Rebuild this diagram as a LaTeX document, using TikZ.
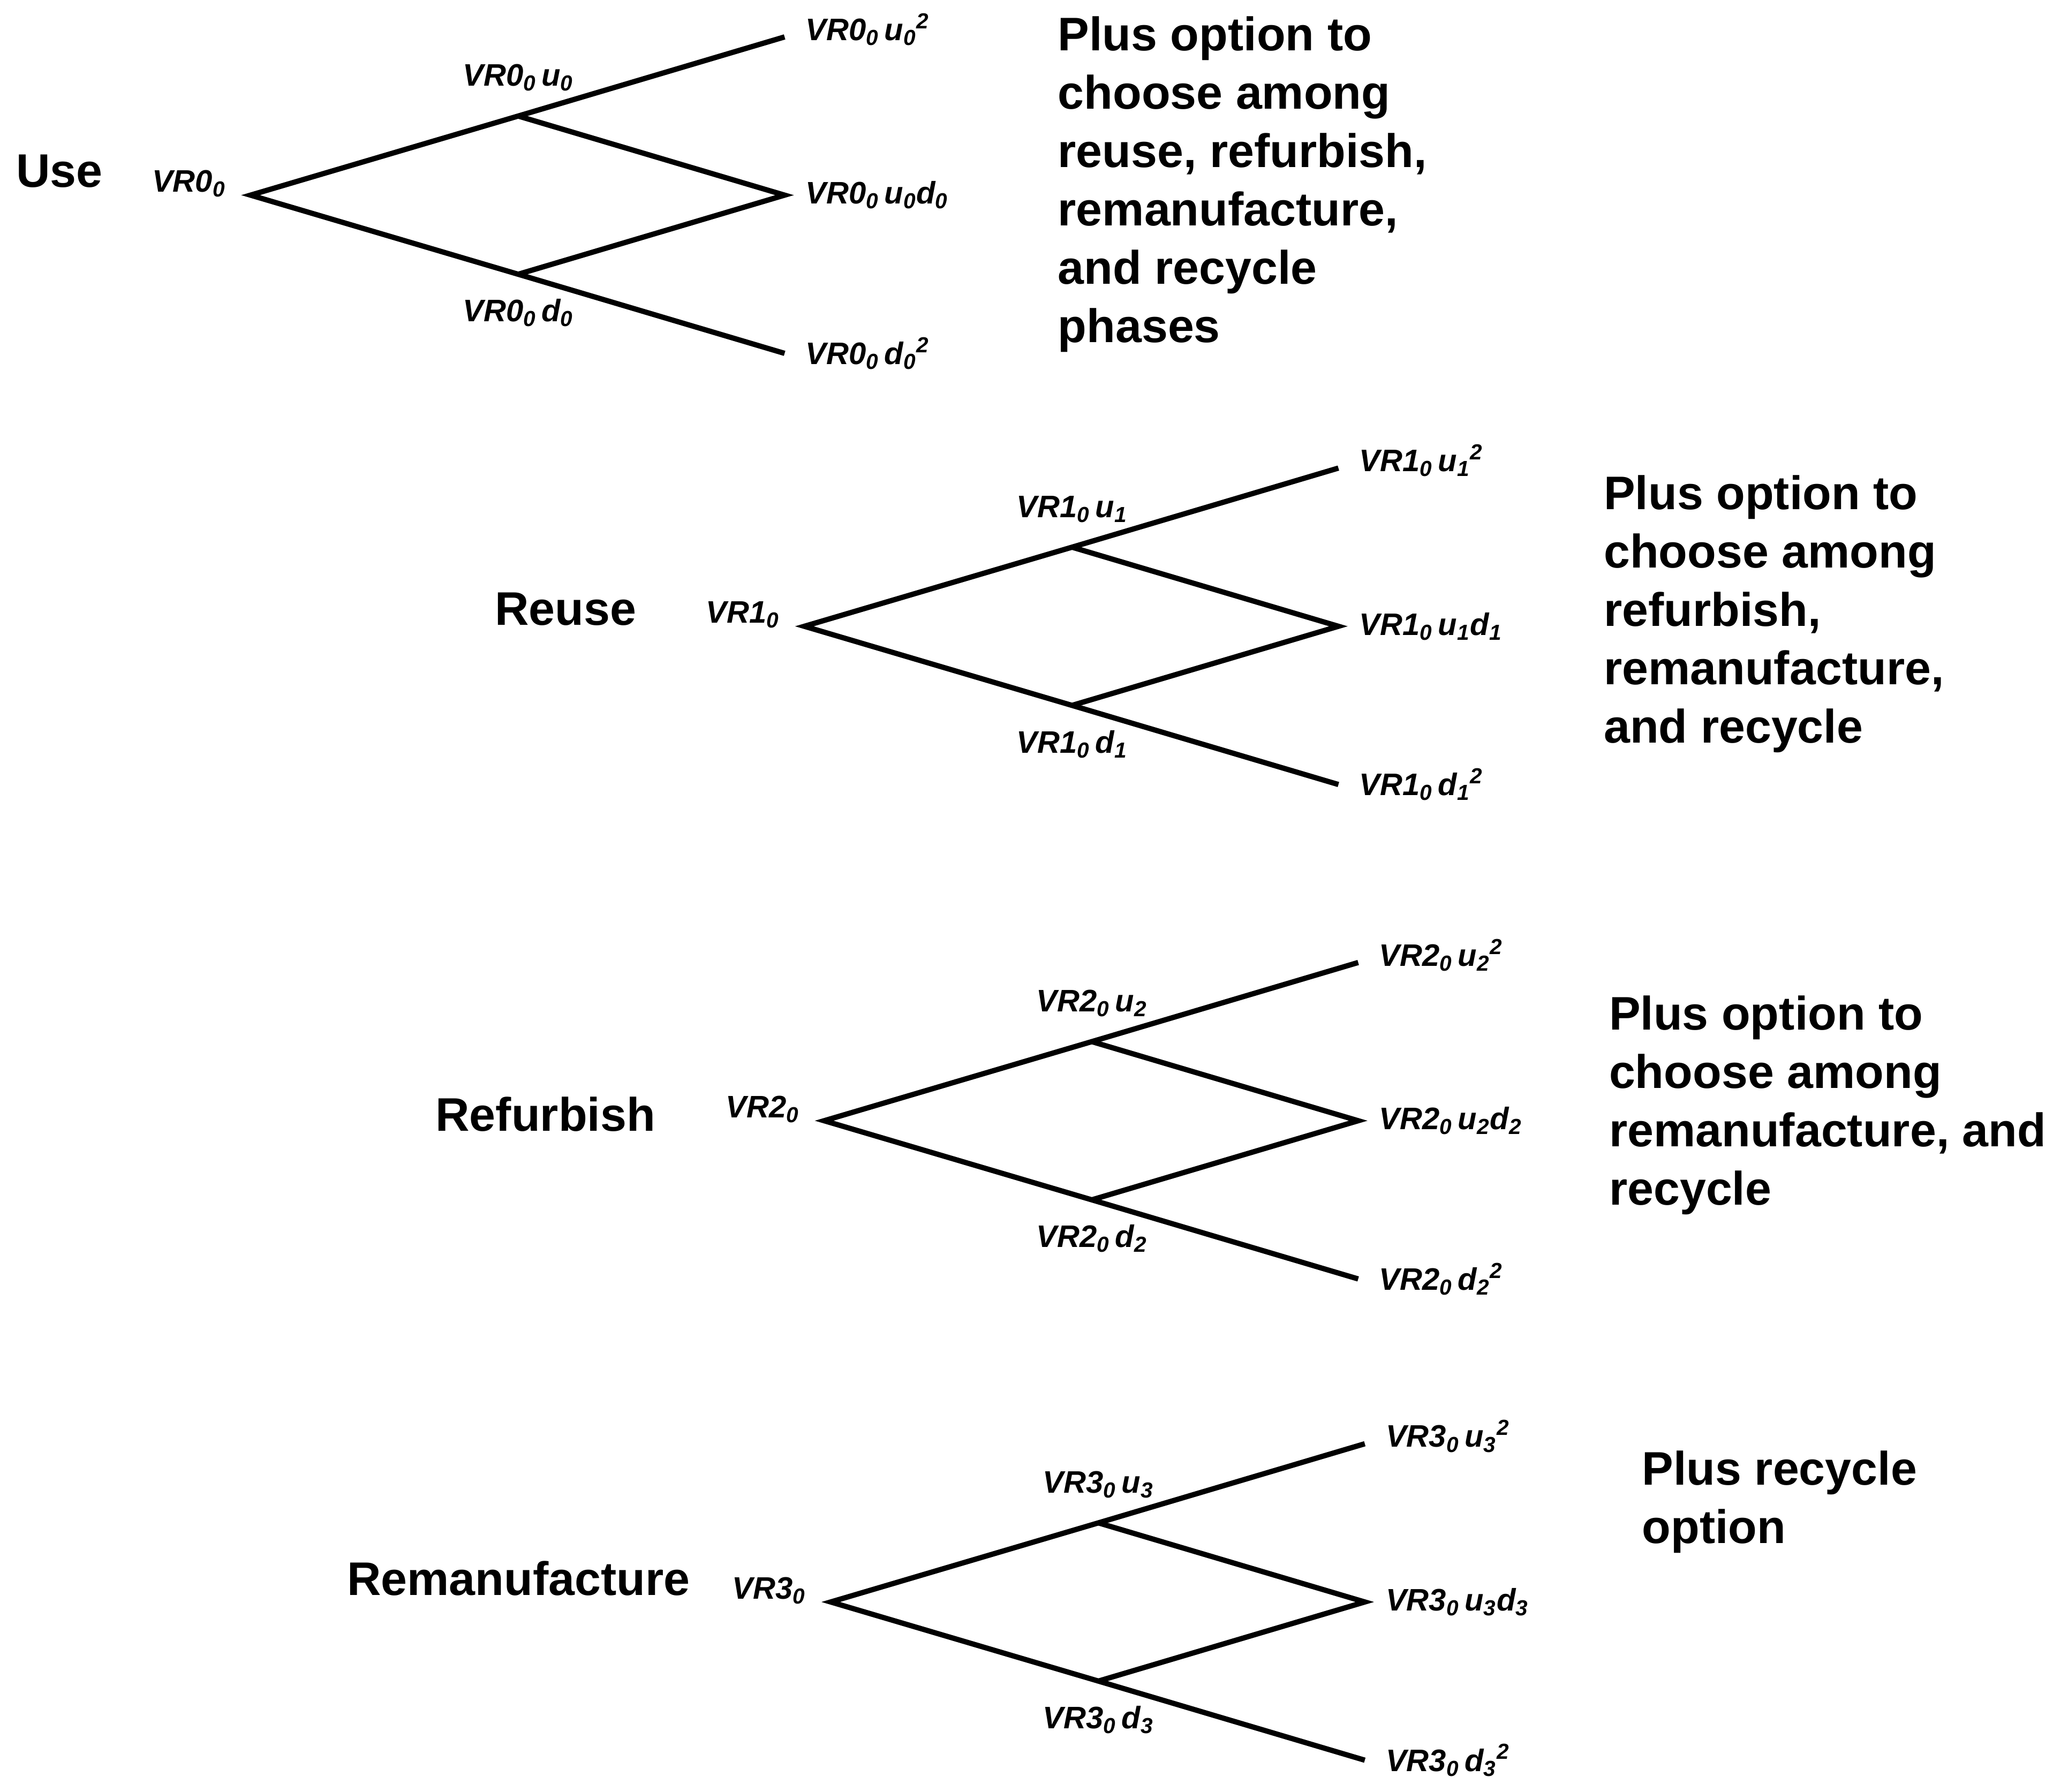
\documentclass[tikz,border=0pt]{standalone}
\usepackage{fontspec}
\setmainfont{Liberation Sans}
\usetikzlibrary{positioning}
\begin{document}
\begin{tikzpicture}[x=0.0246cm,y=-0.0246cm,
  branch/.style={line width=2.8pt},
  val/.style={font=\fontsize{16.5}{19}\selectfont\bfseries\itshape, inner sep=1pt},
  phase/.style={font=\fontsize{25}{31}\selectfont\bfseries, inner sep=0pt},
  note/.style={font=\fontsize{25}{31}\selectfont\bfseries, inner sep=0pt, align=left, anchor=north west}]
\useasboundingbox (0,0) rectangle (1563,1359);
% binomial trees, one per phase
\foreach \i/\x/\y in {0/190/148, 1/610/475, 2/625/850, 3/630/1215} {
  \coordinate (r\i) at (\x,\y);
  \coordinate (u\i) at (\x+203,\y-60);
  \coordinate (d\i) at (\x+203,\y+60);
  \coordinate (uu\i) at (\x+405,\y-120);
  \coordinate (ud\i) at (\x+405,\y);
  \coordinate (dd\i) at (\x+405,\y+120);
  \draw[branch] (uu\i) -- (u\i) -- (r\i) -- (d\i) -- (dd\i);
  \draw[branch] (u\i) -- (ud\i) -- (d\i);
  \node[val, left=12pt of r\i, yshift=6pt] (lr\i) {VR\i\textsubscript{0}};
  \node[val, above=12pt of u\i] (lu\i) {VR\i\textsubscript{0}\,u\textsubscript{\i}};
  \node[val, below=12pt of d\i] (ld\i) {VR\i\textsubscript{0}\,d\textsubscript{\i}};
  \node[val, right=10pt of uu\i, yshift=4pt] (luu\i) {VR\i\textsubscript{0}\,u\textsubscript{\i}\textsuperscript{2}};
  \node[val, right=10pt of ud\i] (lud\i) {VR\i\textsubscript{0}\,u\textsubscript{\i}d\textsubscript{\i}};
  \node[val, right=10pt of dd\i] (ldd\i) {VR\i\textsubscript{0}\,d\textsubscript{\i}\textsuperscript{2}};
}
% phase names
\node[phase, anchor=west] (use) at (12,130) {Use};
\node[phase, anchor=west] (reuse) at (375,462) {Reuse};
\node[phase, anchor=west] (refurb) at (330,845) {Refurbish};
\node[phase, anchor=west] (reman) at (263,1197) {Remanufacture};
% remaining options
\node[note] (opt0) at (802,12) {Plus option to\\choose among\\reuse, refurbish,\\remanufacture,\\and recycle\\phases};
\node[note] (opt1) at (1216,360) {Plus option to\\choose among\\refurbish,\\remanufacture,\\and recycle};
\node[note] (opt2) at (1220,755) {Plus option to\\choose among\\remanufacture, and\\recycle};
\node[note] (opt3) at (1245,1100) {Plus recycle\\option};
\end{tikzpicture}
\end{document}
